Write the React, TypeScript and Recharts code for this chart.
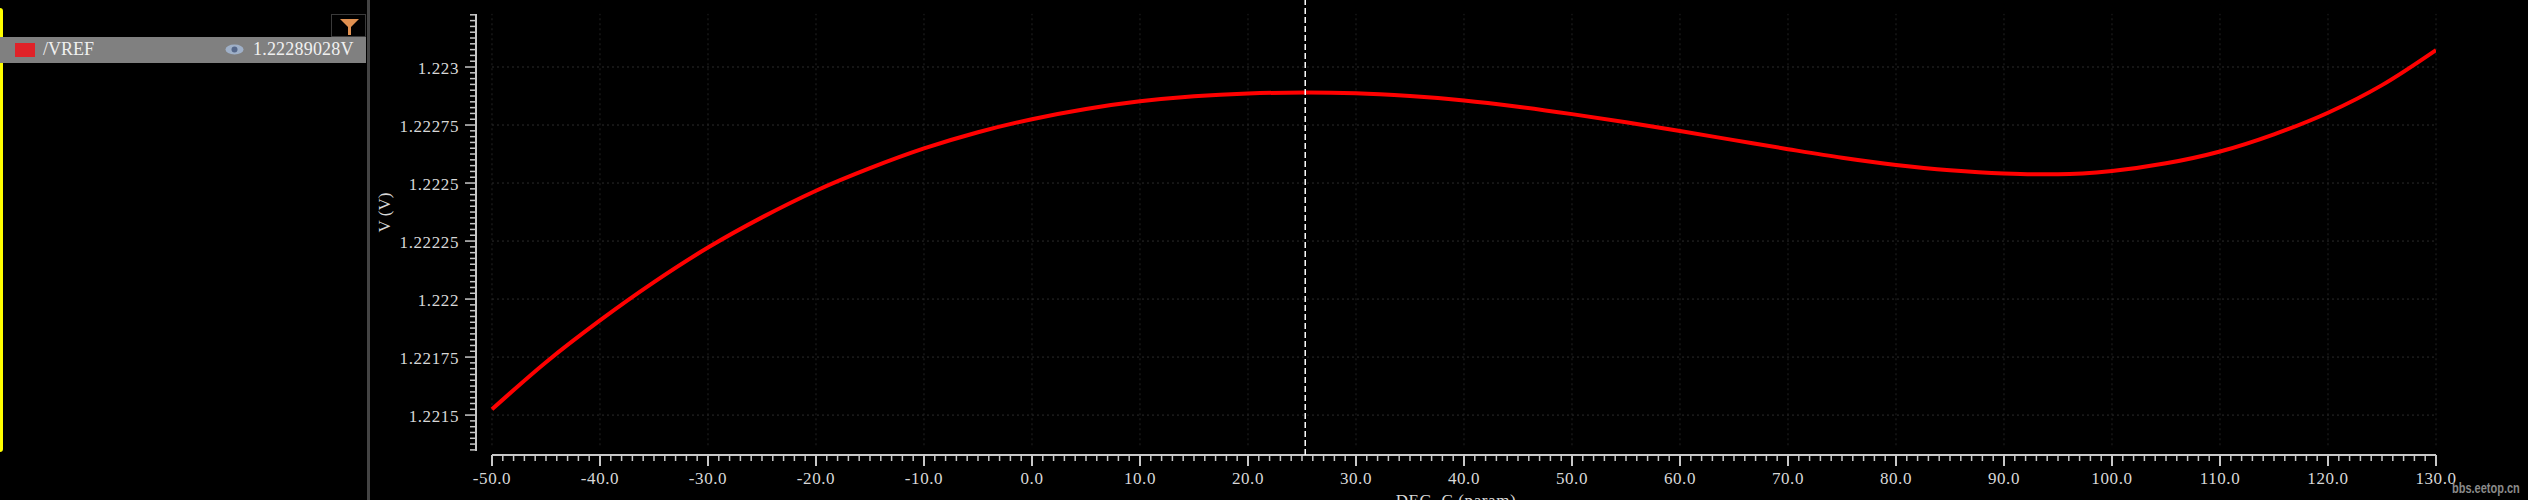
import React from 'react';
import { LineChart, Line, XAxis, YAxis, ReferenceLine, Label } from 'recharts';

const temps = [-50, -45, -40, -35, -30, -25, -20, -15, -10, -5, 0, 5, 10, 15, 20, 25.3, 30, 35, 40, 45, 50, 55, 60, 65, 70, 75, 80, 85, 90, 93, 95, 100, 105, 110, 115, 120, 125, 130];
const vref = [
    1.221525, 1.221728, 1.221908, 1.222073, 1.222222, 1.222352, 1.222467, 1.222564, 1.222649, 1.222719,
    1.222775, 1.222819, 1.222852, 1.222874, 1.222886, 1.22289, 1.222887, 1.222875, 1.222856, 1.222829,
    1.222797, 1.222762, 1.222724, 1.222685, 1.222646, 1.222609, 1.222578, 1.222555, 1.222541, 1.222538,
    1.222538, 1.222552, 1.222585, 1.222636, 1.22271, 1.222803, 1.222922, 1.223073,
];
const xMajor = [-50, -40, -30, -20, -10, 0, 10, 20, 30, 40, 50, 60, 70, 80, 90, 100, 110, 120, 130];
const yMajor = [1.2215, 1.22175, 1.222, 1.22225, 1.2225, 1.22275, 1.223];
const yLabels = ['1.2215', '1.22175', '1.222', '1.22225', '1.2225', '1.22275', '1.223'];

// minor ticks: 1 degree and 25uV apart
const xTicks = Array.from({ length: 181 }, (_, i) => i - 50);
const yTicks = Array.from({ length: 76 }, (_, i) => (1221350 + i * 25) / 1000000);

const data = temps.map((t, i) => ({ temp: t, vref: vref[i] }));

const X_DOMAIN = [-51.48, 130];
const Y_DOMAIN = [1.221328, 1.2232888];
const AXIS_COLOR = '#c8c8c8';
const TEXT_COLOR = '#d8d8d8';
const GRID_V_COLOR = '#222222';
const GRID_H_COLOR = '#2c2c2c';
const FONT = '"Liberation Serif", serif';

const XTick = ({ x, y, payload }: any) => {
    const major = xMajor.includes(payload.value);
    return (
        <g>
            <line x1={x} x2={x} y1={y} y2={y + (major ? 11 : 6)} stroke={AXIS_COLOR} strokeWidth={major ? 2 : 1.5} />
            {major && (
                <text x={x} y={y + 29} textAnchor="middle" fill={TEXT_COLOR} fontSize={17} letterSpacing={0.6} fontFamily={FONT}>
                    {payload.value.toFixed(1)}
                </text>
            )}
        </g>
    );
};

const YTick = ({ x, y, payload }: any) => {
    const idx = yMajor.findIndex((v) => Math.abs(v - payload.value) < 1e-7);
    return (
        <g>
            <line x1={x} x2={x - (idx >= 0 ? 11 : 6)} y1={y} y2={y} stroke={AXIS_COLOR} strokeWidth={1.5} />
            {idx >= 0 && (
                <text x={x - 17} y={y + 7} textAnchor="end" fill={TEXT_COLOR} fontSize={17} letterSpacing={0.6} fontFamily={FONT}>
                    {yLabels[idx]}
                </text>
            )}
        </g>
    );
};

const LeftPanel = () => (
    <>
        <div style={{ position: 'absolute', left: 0, top: 8, width: 3, height: 444, background: '#ffff00', borderRadius: '0 3px 3px 0' }} />
        <div style={{ position: 'absolute', left: 367, top: 0, width: 3, height: 500, background: '#444' }} />
        <div style={{ position: 'absolute', left: 331, top: 14, width: 33, height: 21, border: '1px solid #3a3a3a' }}>
            <svg width={33} height={21}>
                <path d="M8 4 H27 L19 12 V20 H16 V12 Z" fill="#e09050" />
            </svg>
        </div>
        <div style={{ position: 'absolute', left: 0, top: 37, width: 366, height: 26, background: '#808080', fontFamily: FONT, fontSize: 18, color: '#f0f0f0' }}>
            <div style={{ position: 'absolute', left: 15, top: 6, width: 20, height: 14, background: '#e02228' }} />
            <span style={{ position: 'absolute', left: 43, top: 2 }}>/VREF</span>
            <svg style={{ position: 'absolute', left: 225, top: 6 }} width={19} height={13}>
                <ellipse cx={9.5} cy={6.5} rx={9} ry={5} fill="#9fb0c8" />
                <circle cx={9.5} cy={6.5} r={3} fill="#56688a" />
            </svg>
            <span style={{ position: 'absolute', left: 253, top: 2, letterSpacing: 0.2 }}>1.22289028V</span>
        </div>
        <div style={{ position: 'absolute', left: 2452, top: 481, fontFamily: '"Liberation Sans", sans-serif', fontWeight: 700, fontSize: 11, color: '#8a8a8a', transform: 'scaleY(1.4)', whiteSpace: 'nowrap' }}>
            bbs.eetop.cn
        </div>
    </>
);

export default function App() {
    return (
        <div style={{ position: 'absolute', left: 0, top: 0, width: 2528, height: 500, background: '#000', overflow: 'hidden' }}>
            <LineChart width={2528} height={500} data={data} margin={{ top: 0, right: 92, bottom: 0, left: 0 }}>
                <XAxis
                    dataKey="temp"
                    type="number"
                    domain={X_DOMAIN}
                    allowDataOverflow
                    ticks={xTicks}
                    interval={0}
                    height={45}
                    axisLine={false}
                    tickLine={false}
                    tickSize={0}
                    tickMargin={0}
                    tick={XTick}
                >
                    <Label value="DEG_C (param)" position="insideBottom" offset={-6} fill={TEXT_COLOR} fontSize={17} letterSpacing={0.6} fontFamily={FONT} />
                </XAxis>
                <YAxis
                    type="number"
                    domain={Y_DOMAIN}
                    allowDataOverflow
                    ticks={yTicks}
                    interval={0}
                    width={476}
                    axisLine={false}
                    tickLine={false}
                    tickSize={0}
                    tickMargin={0}
                    tick={YTick}
                >
                    <Label value="V (V)" angle={-90} position="insideLeft" offset={384} dy={5} fill={TEXT_COLOR} fontSize={17} fontFamily={FONT} />
                </YAxis>
                {xMajor.map((v) => (
                    <ReferenceLine
                        key={`gx${v}`}
                        segment={[{ x: v, y: 1.22137 }, { x: v, y: 1.223229 }]}
                        stroke={GRID_V_COLOR}
                        strokeDasharray="2 3"
                    />
                ))}
                {yMajor.map((v) => (
                    <ReferenceLine
                        key={`gy${v}`}
                        segment={[{ x: -50, y: v }, { x: 130, y: v }]}
                        stroke={GRID_H_COLOR}
                        strokeDasharray="2 3"
                    />
                ))}
                <ReferenceLine segment={[{ x: -50, y: 1.221328 }, { x: 130, y: 1.221328 }]} stroke={AXIS_COLOR} strokeWidth={2} />
                <ReferenceLine segment={[{ x: -51.48, y: 1.221345 }, { x: -51.48, y: 1.223229 }]} stroke={AXIS_COLOR} strokeWidth={2} />
                <Line dataKey="vref" type="monotone" stroke="#ff0000" strokeWidth={4} dot={false} isAnimationActive={false} />
                <ReferenceLine x={25.3} stroke="#ffffff" strokeWidth={1.5} strokeDasharray="6 3" />
            </LineChart>
            <LeftPanel />
        </div>
    );
}
